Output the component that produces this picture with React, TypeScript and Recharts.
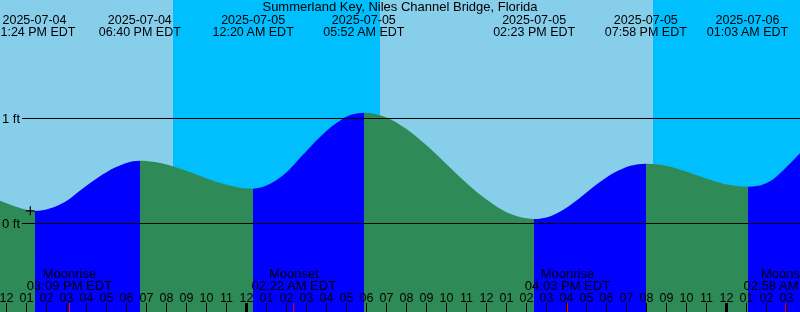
import React from 'react';
import { ComposedChart, Area, XAxis, YAxis, ReferenceArea, ReferenceDot } from 'recharts';

// ---- data (hours counted from 2025-07-04 00:00 EDT) ----
const title = 'Summerland Key, Niles Channel Bridge, Florida';

const tideHours = [
  11.675, 12.2, 12.6, 13.4,
  14.2, 15.0, 15.8, 16.6, 17.4, 18.0, 18.667,
  19.5, 20.35, 21.2, 22.05, 22.9, 23.75, 24.333,
  25.16, 25.99, 26.82, 27.65, 28.48, 29.31, 29.867,
  31.0, 32.0, 33.0, 34.0, 35.0, 36.0, 37.0, 38.0, 38.383,
  39.2, 40.0, 40.8, 41.6, 42.4, 43.2, 43.967,
  44.7, 45.5, 46.3, 47.1, 47.9, 48.6, 49.05,
  49.6, 50.2, 50.8, 51.2, 51.675,
];
const tideFeet = [
  0.217, 0.178, 0.152, 0.119,
  0.145, 0.215, 0.33, 0.44, 0.53, 0.577, 0.598,
  0.583, 0.543, 0.487, 0.425, 0.373, 0.339, 0.332,
  0.375, 0.485, 0.655, 0.82, 0.955, 1.04, 1.055,
  1.01, 0.9, 0.745, 0.565, 0.385, 0.228, 0.108, 0.049, 0.043,
  0.07, 0.15, 0.265, 0.385, 0.485, 0.55, 0.57,
  0.559, 0.524, 0.474, 0.421, 0.375, 0.354, 0.35,
  0.36, 0.405, 0.5, 0.575, 0.668,
];

const extremeHours = [13.4, 18.667, 24.333, 29.867, 38.383, 43.967, 49.05];
const extremeKinds = ['low', 'high', 'low', 'high', 'low', 'high', 'low'];
const extremeDates = ['2025-07-04', '2025-07-04', '2025-07-05', '2025-07-05', '2025-07-05', '2025-07-05', '2025-07-06'];
const extremeTimes = ['01:24 PM EDT', '06:40 PM EDT', '12:20 AM EDT', '05:52 AM EDT', '02:23 PM EDT', '07:58 PM EDT', '01:03 AM EDT'];

const moonHours = [15.15, 26.367, 40.05, 50.967];
const moonEvents = ['Moonrise', 'Moonset', 'Moonrise', 'Moonset'];
const moonTimes = ['03:09 PM EDT', '02:22 AM EDT', '04:03 PM EDT', '02:58 AM EDT'];

const sunEventHours = [20.325, 30.675, 44.325];
const sunEventKinds = ['set', 'rise', 'set'];

const levelTicks = [0, 1];
const levelLabels = ['0 ft', '1 ft'];

const nowHour = 13.19;
const nowFeet = 0.121;

// ---- layout / style ----
const W = 800;
const H = 312;
const T_MIN = 11.675;
const T_MAX = 51.675;
const Y_MIN = -0.843;
const Y_MAX = 2.1286;
const FONT = '"Liberation Sans", Arial, Helvetica, sans-serif';
const DAY = '#87CEEB';
const NIGHT = '#00BFFF';
const RISING = '#0000FF';
const FALLING = '#2E8B57';

const hourTicks: number[] = [];
for (let h = Math.ceil(T_MIN); h <= Math.floor(T_MAX); h++) hourTicks.push(h);

const tableData = tideHours.map((t, i) => ({ t, ft: tideFeet[i] }));

// day / night bands
const bands: { x1: number; x2: number; night: boolean }[] = [];
{
  let start = T_MIN;
  let night = sunEventKinds[0] === 'rise';
  sunEventHours.forEach((h, i) => {
    bands.push({ x1: start, x2: h, night });
    start = h;
    night = sunEventKinds[i] === 'set';
  });
  bands.push({ x1: start, x2: T_MAX, night });
}

// rising / falling gradient stops
const gradStops: { off: number; color: string }[] = [];
{
  const bounds = [T_MIN, ...extremeHours, T_MAX];
  for (let i = 0; i < bounds.length - 1; i++) {
    let rising: boolean;
    if (i < extremeHours.length) rising = extremeKinds[i] === 'high';
    else rising = extremeKinds[extremeKinds.length - 1] === 'low';
    const color = rising ? RISING : FALLING;
    gradStops.push({ off: (bounds[i] - T_MIN) / (T_MAX - T_MIN), color });
    gradStops.push({ off: (bounds[i + 1] - T_MIN) / (T_MAX - T_MIN), color });
  }
}

const nearestIndex = (arr: number[], v: number) => {
  let best = 0;
  arr.forEach((a, i) => {
    if (Math.abs(a - v) < Math.abs(arr[best] - v)) best = i;
  });
  return best;
};

const hourLabel = (t: number) => {
  const h = ((t % 12) + 12) % 12;
  return String(h === 0 ? 12 : h).padStart(2, '0');
};

const HourTick = (props: any) => {
  const { x, payload } = props;
  const v = payload.value as number;
  const midnight = v % 24 === 0;
  return (
    <g>
      <line x1={x} x2={x} y1={H - 9} y2={H} stroke="#000" strokeWidth={midnight ? 3 : 1} />
      <text x={x} y={H - 10.3} textAnchor="middle" fontSize={12.5} fontFamily={FONT} fill="#000">
        {hourLabel(v)}
      </text>
    </g>
  );
};

const MoonTick = (props: any) => {
  const { x, payload } = props;
  const i = nearestIndex(moonHours, payload.value);
  return (
    <g>
      <line x1={x} x2={x} y1={H - 9} y2={H} stroke="#FF0000" strokeWidth={1} />
      <text x={x} y={H - 33.7} textAnchor="middle" fontSize={13} fontFamily={FONT} fill="#000">
        {moonEvents[i]}
      </text>
      <text x={x} y={H - 22} textAnchor="middle" fontSize={13} fontFamily={FONT} fill="#000">
        {moonTimes[i]}
      </text>
    </g>
  );
};

const HeaderTick = (props: any) => {
  const { x, payload } = props;
  const i = nearestIndex(extremeHours, payload.value);
  return (
    <g>
      <text x={x} y={23.7} textAnchor="middle" fontSize={12.5} fontFamily={FONT} fill="#000">
        {extremeDates[i]}
      </text>
      <text x={x} y={36.3} textAnchor="middle" fontSize={12.5} fontFamily={FONT} fill="#000">
        {extremeTimes[i]}
      </text>
    </g>
  );
};

const LevelTick = (props: any) => {
  const { y, payload } = props;
  const i = nearestIndex(levelTicks, payload.value);
  return (
    <g>
      <line x1={22} x2={W} y1={y} y2={y} stroke="#000" strokeWidth={1} />
      <text x={2} y={y + 4.3} textAnchor="start" fontSize={13} fontFamily={FONT} fill="#000">
        {levelLabels[i]}
      </text>
    </g>
  );
};

const NowMark = (props: any) => {
  const { cx, cy } = props;
  return (
    <path
      d={`M${cx - 4.5},${cy} h9 M${cx},${cy - 4.5} v9`}
      stroke="#000"
      strokeWidth={1.2}
      fill="none"
    />
  );
};

const axisCommon = {
  type: 'number' as const,
  dataKey: 't',
  domain: [T_MIN, T_MAX],
  allowDataOverflow: true,
  interval: 0 as const,
  height: 20,
  mirror: true,
  axisLine: false,
  tickLine: false,
};

export default function App() {
  return (
    <div style={{ position: 'fixed', left: 0, top: 0, width: W, height: H, overflow: 'hidden' }}>
      <ComposedChart width={W} height={H} data={tableData} margin={{ top: 0, right: 0, bottom: 0, left: 0 }}>
        <defs>
          <linearGradient id="tideFill" x1="0" y1="0" x2="1" y2="0">
            {gradStops.map((s, i) => (
              <stop key={i} offset={s.off} stopColor={s.color} />
            ))}
          </linearGradient>
        </defs>
        {bands.map((b, i) => (
          <ReferenceArea
            key={i}
            xAxisId="main"
            x1={b.x1}
            x2={b.x2}
            y1={Y_MIN}
            y2={Y_MAX}
            fill={b.night ? NIGHT : DAY}
            fillOpacity={1}
            stroke="none"
            zIndex={-10}
          />
        ))}
        <Area
          xAxisId="main"
          dataKey="ft"
          type="monotone"
          baseValue="dataMin"
          fill="url(#tideFill)"
          fillOpacity={1}
          stroke="none"
          dot={false}
          activeDot={false}
          isAnimationActive={false}
        />
        <ReferenceDot xAxisId="main" x={nowHour} y={nowFeet} shape={(p: any) => <NowMark {...p} />} />
        <XAxis
          {...axisCommon}
          xAxisId="main"
          ticks={hourTicks}
          tick={(p: any) => <HourTick {...p} />}
        />
        <XAxis
          {...axisCommon}
          xAxisId="moon"
          ticks={moonHours}
          tick={(p: any) => <MoonTick {...p} />}
        />
        <XAxis
          {...axisCommon}
          xAxisId="head"
          orientation="top"
          ticks={extremeHours}
          tick={(p: any) => <HeaderTick {...p} />}
        />
        <YAxis
          type="number"
          domain={[Y_MIN, Y_MAX]}
          allowDataOverflow
          ticks={levelTicks}
          interval={0}
          width={20}
          mirror
          axisLine={false}
          tickLine={false}
          tick={(p: any) => <LevelTick {...p} />}
        />
      </ComposedChart>
      <div
        style={{
          position: 'absolute',
          left: 0,
          top: 0,
          width: W,
          textAlign: 'center',
          fontFamily: FONT,
          fontSize: 13,
          lineHeight: '13px',
          color: '#000',
          whiteSpace: 'nowrap',
        }}
      >
        {title}
      </div>
    </div>
  );
}
